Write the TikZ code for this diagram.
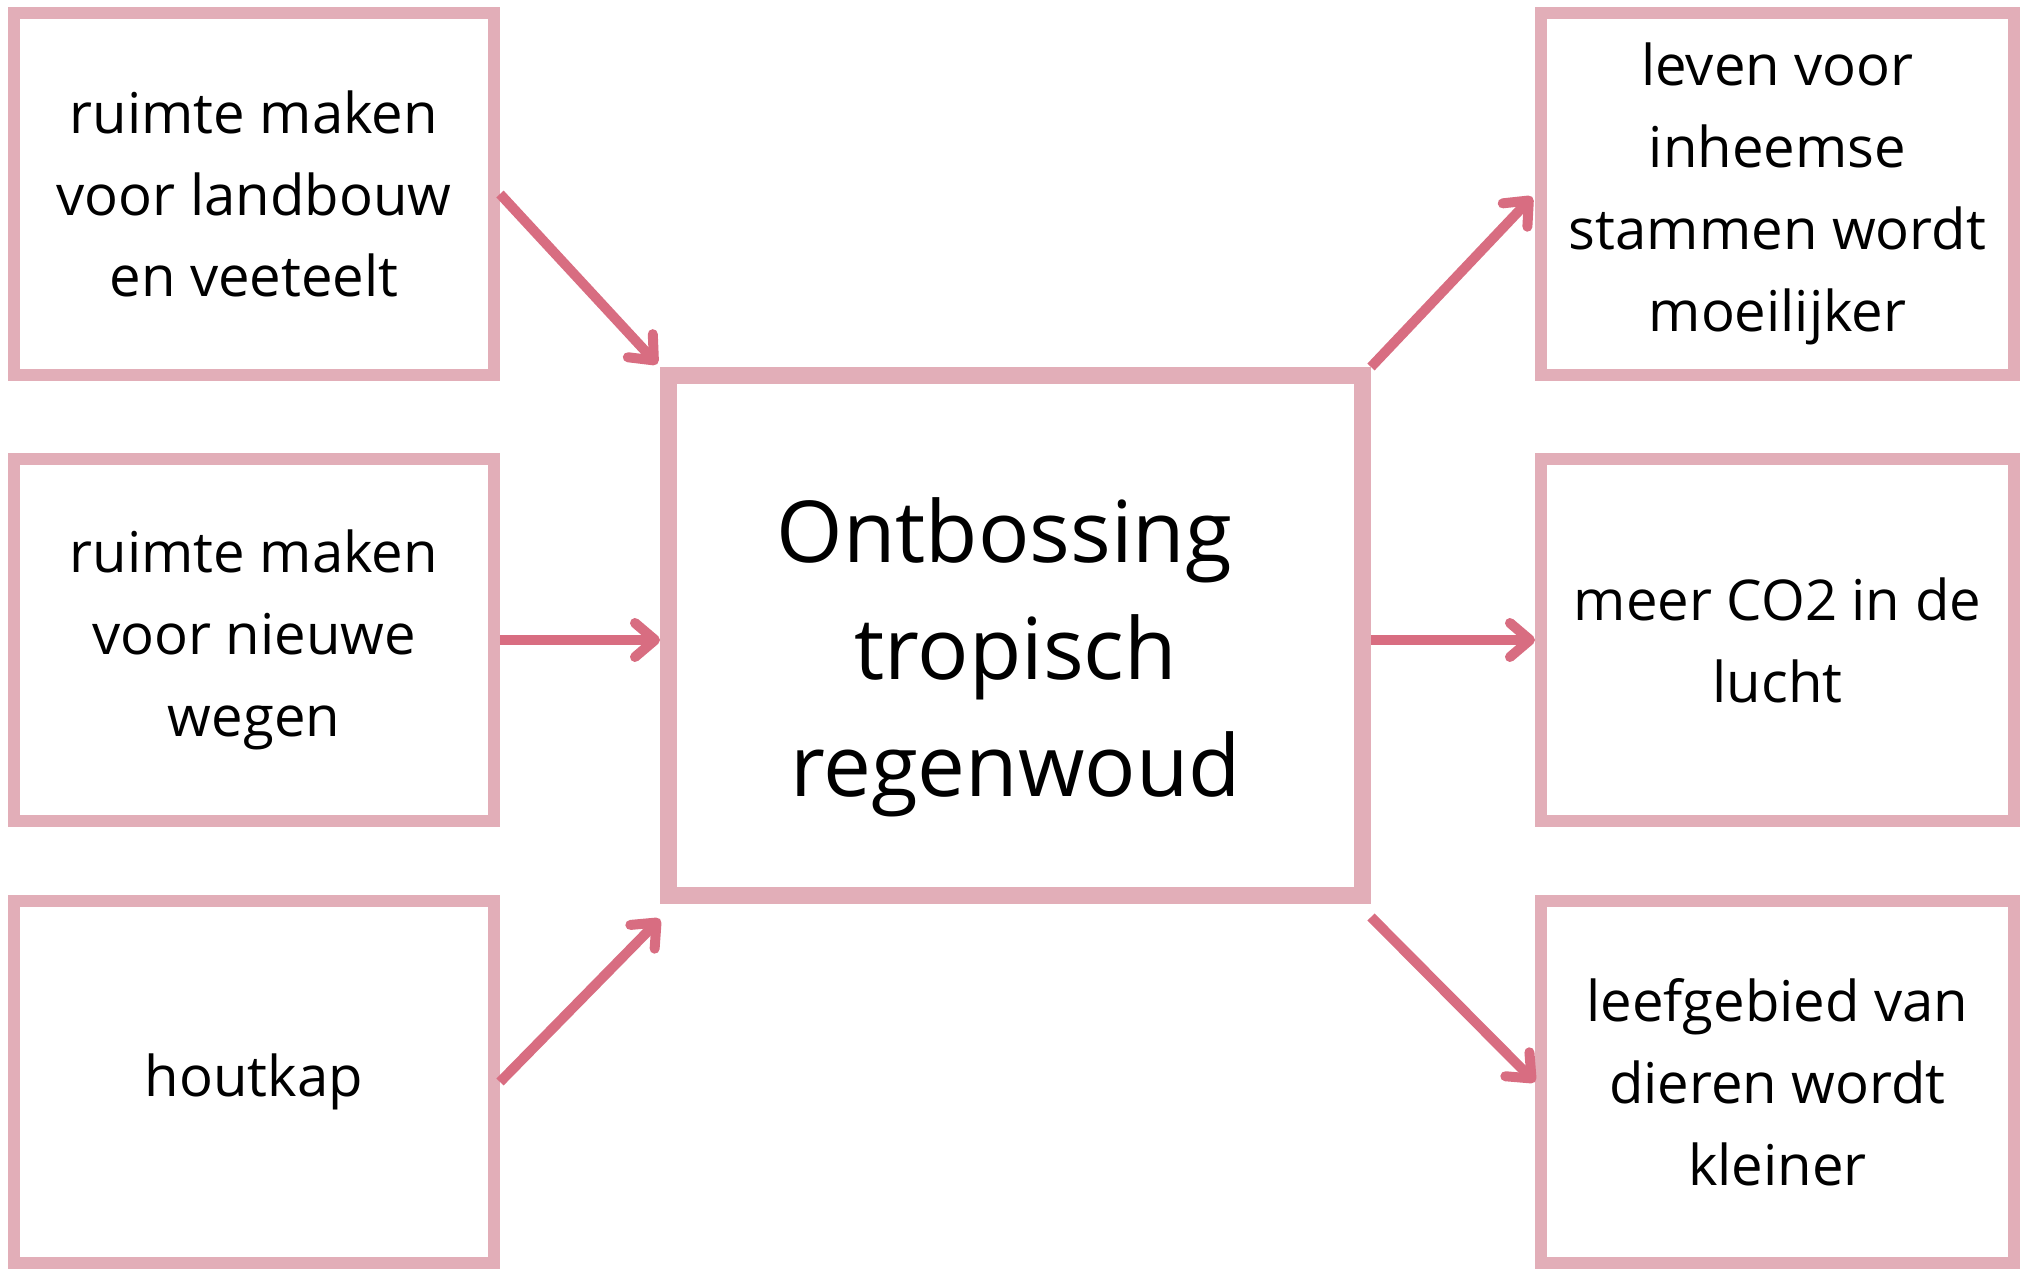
\documentclass[tikz,border=0pt]{standalone}
\usepackage{fontspec}
\setmainfont{Open Sans}
\usepackage{tikz}
\usetikzlibrary{arrows.meta}
\definecolor{white}{RGB}{255,255,255}
\definecolor{black}{RGB}{0,0,0}
\definecolor{rose_line}{RGB}{226,174,184}
\definecolor{rose_arrow}{RGB}{216,109,129}

\tikzset{
	sidebox/.style={rectangle,draw=rose_line,fill=white,line width=0.12cm,
		minimum height=3.62cm,align=center,font=\fontsize{16}{23.3}\selectfont},
	leftbox/.style={sidebox,minimum width=4.80cm},
	rightbox/.style={sidebox,minimum width=4.73cm},
	mainbox/.style={rectangle,draw=rose_line,fill=white,line width=0.17cm,
		minimum width=6.94cm,minimum height=5.20cm,align=center,
		text height=97.7pt,text depth=5.8pt,
		font=\fontsize{24.3}{33.3}\selectfont},
	cause/.style={rose_arrow,line width=0.10cm,
		-{Straight Barb[length=0.2cm,width=0.34cm,round]}}
}

\begin{document}
\begin{tikzpicture}
	\useasboundingbox (0,0) rectangle (20.31,-12.71);
	
	\node[mainbox] (ctr) at (10.155,-6.355) {Ontbossing\kern0.26em\\tropisch\\regenwoud};
	
	\node[leftbox] (l1) at (2.54,-1.94) {ruimte maken\\voor landbouw\\en veeteelt};
	\node[leftbox] (l2) at (2.54,-6.40) {ruimte maken\\voor nieuwe\\wegen};
	\node[leftbox] (l3) at (2.54,-10.82) {houtkap};
	
	\node[rightbox] (r1) at (17.775,-1.94) {leven voor\\inheemse\\stammen wordt\\moeilijker};
	\node[rightbox] (r2) at (17.775,-6.40) {meer CO2 in de\\lucht};
	\node[rightbox] (r3) at (17.775,-10.82) {leefgebied van\\dieren wordt\\kleiner};
	
	\foreach \x/\y in {l1.east/ctr.north west,ctr.north east/r1.west}
		\draw[cause,shorten >=0.04cm] (\x) -- (\y);
	\draw[cause] (l2.east) -- (l2.east -| ctr.west);
	\draw[cause] (r2.west -| ctr.east) -- (r2.west);
	\draw[cause] (l3.east) -- ([yshift=-0.15cm]ctr.south west);
	\draw[cause] ([yshift=-0.13cm]ctr.south east) -- (r3.west);
\end{tikzpicture}
\end{document}
